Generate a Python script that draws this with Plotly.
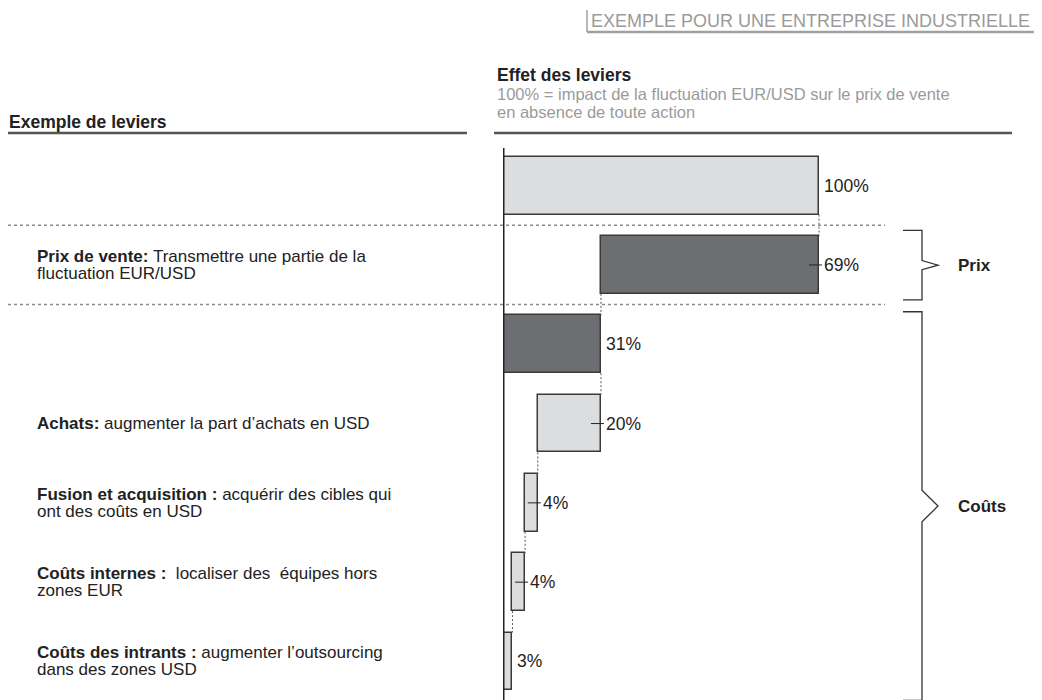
import plotly.graph_objects as go

# leviers, de haut en bas
kinds = ["total", "prix", "reste", "cout", "cout", "cout", "cout"]
values = [100, 69, 31, 20, 4, 4, 3]
labels = ["100%", "69%", "31%", "20%", "4%", "4%", "3%"]

lever_bold = ["", "Prix de vente:", "", "Achats:", "Fusion et acquisition :",
              "Coûts internes :", "Coûts des intrants :"]
lever_line1 = ["", " Transmettre une partie de la", "", " augmenter la part d’achats en USD",
               " acquérir des cibles qui", "  localiser des  équipes hors",
               " augmenter l’outsourcing"]
lever_line2 = ["", "fluctuation EUR/USD", "", "", "ont des coûts en USD", "zones EUR",
               "dans des zones USD"]

W, H = 1042, 700
OFF = 8  # the page body adds an 8px margin around the figure
FONT = "Liberation Sans, Arial, sans-serif"
DARK = "#222222"
GREY_TXT = "#9a9a9a"
fills = {"total": "#dcdddf", "prix": "#6d6e71", "reste": "#6d6e71", "cout": "#dcdddf"}


def px(x):
    # screen x -> paper
    return (x - OFF) / W


def py(y):
    # screen y -> paper
    return 1 - (y - OFF) / H


# waterfall: base of each bar
bases = []
level = 0
for k, v in zip(kinds, values):
    if k == "total":
        bases.append(0)
        level = v
    elif k == "prix":
        level -= v
        bases.append(level)
    elif k == "reste":
        bases.append(0)
    else:
        level -= v
        bases.append(level)
ends = [b + v for b, v in zip(bases, values)]
rows = list(range(len(values)))
bw = 0.73

fig = go.Figure()
fig.add_trace(go.Bar(
    y=rows, x=values, base=bases, orientation="h", width=bw,
    marker=dict(color=[fills[k] for k in kinds], line=dict(color="#3a3a3a", width=1.5)),
    hoverinfo="skip",
))

shapes = []
ann = []

# value labels (+ small leader tick on the lever rows)
for i in rows:
    ann.append(dict(x=ends[i], y=i, xref="x", yref="y", text=labels[i], showarrow=False,
                    xanchor="left", yanchor="middle", xshift=3,
                    font=dict(size=17.5, color=DARK, family=FONT)))
    if kinds[i] in ("prix", "cout") and i != len(rows) - 1:
        shapes.append(dict(type="line", xref="x", yref="y", xsizemode="pixel", xanchor=ends[i],
                           x0=-10, x1=3, y0=i, y1=i, line=dict(color=DARK, width=1)))

# dashed connectors between consecutive bars
for i in rows[:-1]:
    common = {bases[i], ends[i]} & {bases[i + 1], ends[i + 1]}
    if not common:
        continue
    cx = max(common)
    shapes.append(dict(type="line", xref="x", yref="y", x0=cx, x1=cx,
                       y0=i + bw / 2, y1=i + 1 - bw / 2,
                       line=dict(color="#555555", width=1, dash="2px,2px")))

# dotted separators around the price row
for i in rows:
    if kinds[i] == "prix":
        for yy in (i - 0.5, i + 0.5):
            shapes.append(dict(type="line", xref="paper", yref="y", x0=0, x1=px(885),
                               y0=yy, y1=yy, line=dict(color="#8a8a8a", width=1.5, dash="dot")))

# vertical axis
shapes.append(dict(type="line", xref="x", yref="paper", x0=0, x1=0, y0=0, y1=py(148),
                   line=dict(color=DARK, width=3)))

# left lever texts
for i in rows:
    if not lever_bold[i]:
        continue
    t1 = "<b>" + lever_bold[i] + "</b>" + lever_line1[i]
    if lever_line2[i]:
        lines = [(t1, 8.5), (lever_line2[i], -8.5)]
    else:
        lines = [(t1, 0)]
    for txt, sh in lines:
        ann.append(dict(x=px(35), y=i, xref="paper", yref="y", text=txt, showarrow=False,
                        xanchor="left", yanchor="middle", yshift=sh,
                        font=dict(size=17, color=DARK, family=FONT)))

# braces on the right
xa, xb, xc = px(903), px(922), px(938)
p_row = kinds.index("prix")
c_row = kinds.index("cout") - 1
groups = [("Prix", p_row - 0.435, p_row + 0.44, 0.057),
          ("Coûts", c_row - 0.41, 6.49, 0.2)]
for name, top, bot, half in groups:
    mid = (top + bot) / 2
    path = (f"M {xa},{top} L {xb},{top} L {xb},{mid - half} L {xc},{mid} "
            f"L {xb},{mid + half} L {xb},{bot} L {xa},{bot}")
    shapes.append(dict(type="path", xref="paper", yref="y", path=path,
                       line=dict(color="#333333", width=1.3)))
    ann.append(dict(x=px(956), y=mid, xref="paper", yref="y", text="<b>" + name + "</b>",
                    showarrow=False, xanchor="left", yanchor="middle",
                    font=dict(size=17, color=DARK, family=FONT)))

# headers
heads = [
    dict(x=px(589), y=py(21), text="EXEMPLE POUR UNE ENTREPRISE INDUSTRIELLE",
         font=dict(size=18, color=GREY_TXT, family=FONT)),
    dict(x=px(495), y=py(75), text="<b>Effet des leviers</b>",
         font=dict(size=17.5, color=DARK, family=FONT)),
    dict(x=px(495), y=py(94), text="100% = impact de la fluctuation EUR/USD sur le prix de vente",
         font=dict(size=16.5, color=GREY_TXT, family=FONT)),
    dict(x=px(495), y=py(112), text="en absence de toute action",
         font=dict(size=16.5, color=GREY_TXT, family=FONT)),
    dict(x=px(7), y=py(122), text="<b>Exemple de leviers</b>",
         font=dict(size=17.5, color=DARK, family=FONT)),
]
for a in heads:
    a.update(xref="paper", yref="paper", showarrow=False, xanchor="left", yanchor="middle")
ann += heads

shapes += [
    dict(type="line", xref="paper", yref="paper", x0=px(587), x1=px(587), y0=py(10), y1=py(32),
         line=dict(color="#a0a0a0", width=1.5)),
    dict(type="line", xref="paper", yref="paper", x0=px(587), x1=1, y0=py(32), y1=py(32),
         line=dict(color="#a0a0a0", width=2.5)),
    dict(type="line", xref="paper", yref="paper", x0=px(5), x1=px(467), y0=py(133), y1=py(133),
         line=dict(color="#555555", width=2.5)),
    dict(type="line", xref="paper", yref="paper", x0=px(494), x1=px(1012), y0=py(133), y1=py(133),
         line=dict(color="#555555", width=2.5)),
]

# x scale: 0 at screen x 503, 100 at screen x 819
x0_px = 503
unit = (819 - x0_px) / 100
plot_top, plot_bot = 146, 700
fig.update_layout(
    width=W, height=H,
    margin=dict(l=0, r=0, t=0, b=0),
    paper_bgcolor="white", plot_bgcolor="white",
    showlegend=False,
    bargap=0,
    xaxis=dict(domain=[px(x0_px), 1], range=[0, (W + OFF - x0_px) / unit],
               visible=False, fixedrange=True),
    yaxis=dict(domain=[py(plot_bot), py(plot_top)],
               range=[-0.5 + (plot_bot - plot_top) / 79.3, -0.5],
               visible=False, fixedrange=True),
    shapes=shapes,
    annotations=ann,
    font=dict(family=FONT),
)

fig.write_html("out.html")
